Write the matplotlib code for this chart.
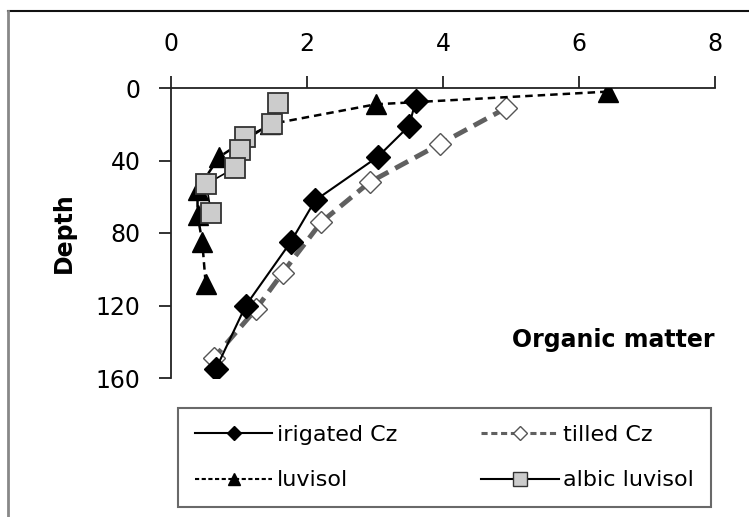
import matplotlib.pyplot as plt
from matplotlib.lines import Line2D

plt.rcParams['font.family'] = ['DejaVu Sans']

# organic matter (x) vs depth (y)
irig_om = [3.60, 3.50, 3.04, 2.12, 1.76, 1.10, 0.66]
irig_depth = [7, 21, 38, 62, 85, 120, 155]

tilled_om = [4.93, 3.95, 2.92, 2.21, 1.64, 1.25, 0.63]
tilled_depth = [11, 31, 52, 74, 102, 122, 149]

luv_om = [6.42, 3.01, 1.45, 0.71, 0.39, 0.39, 0.46, 0.51]
luv_depth = [2, 9, 20, 38, 56, 70, 85, 108]

albic_om = [1.57, 1.49, 1.09, 1.01, 0.94, 0.52, 0.59]
albic_depth = [8, 20, 27, 34, 44, 53, 69]

xticks = [0, 2, 4, 6, 8]
yticks = [0, 40, 80, 120, 160]

fig = plt.figure(figsize=(7.49, 5.17), dpi=100)
ax = fig.add_axes([171 / 749, 1 - 378 / 517, 544 / 749, 290 / 517])

ax.plot(tilled_om, tilled_depth, color='#606060', ls=(0, (3, 1.6)), lw=3.5,
        marker='D', ms=11, mfc='white', mec='#555555', mew=1, label='tilled Cz', zorder=2)
ax.plot(irig_om, irig_depth, color='black', lw=1.5,
        marker='D', ms=12, mfc='black', mec='black', label='irigated Cz', zorder=3)
ax.plot(luv_om, luv_depth, color='black', ls=(0, (3, 2)), lw=1.8,
        marker='^', ms=14, mfc='black', mec='black', label='luvisol', zorder=4)
ax.plot(albic_om, albic_depth, color='black', lw=1.2,
        marker='s', ms=14, mfc='#cccccc', mec='#333333', mew=1.3, label='albic luvisol', zorder=5)

ax.set_xlim(0, 8)
ax.set_ylim(160, 0)
ax.set_xticks(xticks)
ax.set_yticks(yticks)
ax.xaxis.tick_top()
ax.spines['right'].set_visible(False)
ax.spines['bottom'].set_visible(False)
for s in ['top', 'left']:
    ax.spines[s].set_linewidth(1.3)
    ax.spines[s].set_color('#222222')
ax.tick_params(axis='both', labelsize=17, length=9, width=1.3, color='#222222')
ax.tick_params(axis='x', pad=14)
ax.tick_params(axis='y', pad=13)

ax.set_ylabel('Depth', fontsize=17, fontweight='bold', labelpad=14)
ax.text(1.0, 0.13, 'Organic matter', transform=ax.transAxes, ha='right', va='center',
        fontsize=17, fontweight='bold')

h_irig = Line2D([], [], color='black', lw=1.5, marker='D', ms=7, mfc='black', mec='black')
h_tilled = Line2D([], [], color='#606060', ls=(0, (2, 1.2)), lw=2.2, marker='D', ms=7,
                  mfc='white', mec='#555555')
h_luv = Line2D([], [], color='black', ls=(0, (2, 1.2)), lw=1.5, marker='^', ms=8,
               mfc='black', mec='black')
h_albic = Line2D([], [], color='black', lw=1.5, marker='s', ms=10, mfc='#cccccc', mec='#333333')
# matplotlib fills legend columns first, so order for row-wise layout
handles = [h_irig, h_luv, h_tilled, h_albic]
labels = ['irigated Cz', 'luvisol', 'tilled Cz', 'albic luvisol']
leg = fig.legend(handles, labels, loc='lower left',
                 bbox_to_anchor=(178 / 749, 10 / 517, 533 / 749, 98 / 517),
                 mode='expand', ncol=2, fontsize=16, frameon=True, fancybox=False,
                 handlelength=3.5, handletextpad=0.2, borderaxespad=0, labelspacing=1.15,
                 borderpad=0.75, columnspacing=1.0)
leg.get_frame().set_edgecolor('#444444')
leg.get_frame().set_linewidth(1.5)

# outer border remnants (top and left)
fig.add_artist(Line2D([0.011, 1.0], [1 - 11 / 517, 1 - 11 / 517], transform=fig.transFigure,
                      color='#111111', lw=1.5))
fig.add_artist(Line2D([0.011, 0.011], [0, 1 - 11 / 517], transform=fig.transFigure,
                      color='#888888', lw=2))

fig.savefig('out.png', dpi=100)
